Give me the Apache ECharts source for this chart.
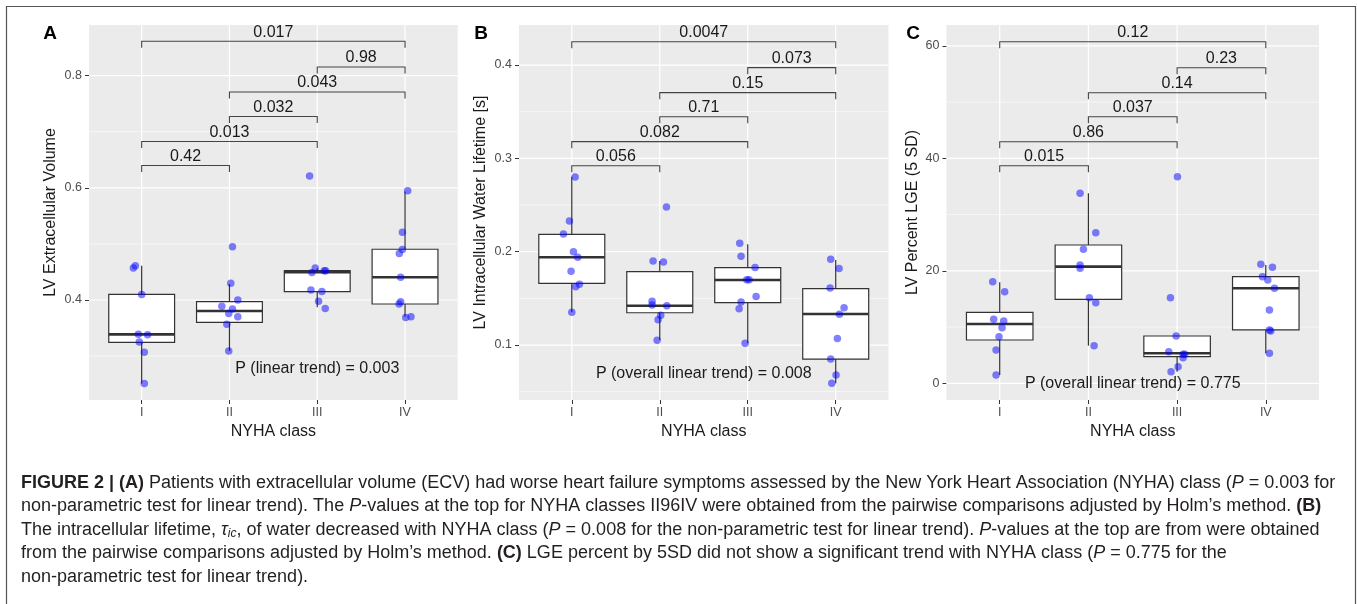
<!DOCTYPE html>
<html>
<head>
<meta charset="utf-8">
<script src="https://cdn.jsdelivr.net/npm/echarts@6/dist/echarts.min.js"></script>
<style>
  html, body { margin: 0; padding: 0; background: #fff; }
  #main { width: 1357px; height: 604px; }
</style>
</head>
<body>
<div id="main"></div>
<script>
// NYHA 分级
const CLASSES = ['I', 'II', 'III', 'IV'];
// 比较组合 (从下往上)
const PAIRS = [[0, 1], [0, 2], [1, 2], [1, 3], [2, 3], [0, 3]];

// A: LV Extracellular Volume  —— [min, Q1, median, Q3, max]
const ecvBox = [
  [0.251, 0.3245, 0.3387, 0.4102, 0.461],
  [0.309, 0.3602, 0.3804, 0.397, 0.4286],
  [0.387, 0.4148, 0.4494, 0.4523, 0.4566],
  [0.370, 0.3929, 0.4405, 0.4905, 0.5934]
];
const ecvPoints = [
  [-0.095, 0.457], [-0.072, 0.461], [0, 0.410], [-0.038, 0.339], [0.068, 0.338], [-0.027, 0.325], [0.03, 0.307], [0.03, 0.251],
  [1.034, 0.495], [1.015, 0.430], [1.095, 0.400], [0.913, 0.389], [1.034, 0.384], [0.992, 0.376], [1.095, 0.370], [0.97, 0.357], [0.992, 0.309],
  [1.913, 0.621], [1.977, 0.457], [1.939, 0.449], [2.08, 0.452], [2.095, 0.452], [1.928, 0.418], [2.053, 0.415], [2.015, 0.398], [2.091, 0.385],
  [3.03, 0.595], [2.97, 0.521], [2.97, 0.490], [2.935, 0.483], [2.95, 0.4405], [2.95, 0.397], [2.932, 0.393], [3.008, 0.369], [3.068, 0.370]
];
const ecvBracketY = [0.6398, 0.6827, 0.7273, 0.7709, 0.8155, 0.8613];
const ecvBracketP = ['0.42', '0.013', '0.032', '0.043', '0.98', '0.017'];
const ecvTicks = [0.4, 0.6, 0.8];
const ecvMinor = [0.3, 0.5, 0.7];
const ecvRange = [0.2217, 0.8904];
const ecvTrend = 'P (linear trend) = 0.003';
const ecvTrendAt = [2, 0.278];

// B: LV Intracellular Water Lifetime [s]
const tauBox = [
  [0.135, 0.1661, 0.194, 0.2186, 0.2804],
  [0.1054, 0.1346, 0.1421, 0.1786, 0.190],
  [0.1018, 0.1454, 0.1697, 0.1829, 0.208],
  [0.059, 0.085, 0.1333, 0.1604, 0.1911]
];
const tauPoints = [
  [0.038, 0.280], [-0.027, 0.233], [-0.095, 0.219], [0.019, 0.200], [0.068, 0.194], [-0.008, 0.179], [0.087, 0.165], [0.045, 0.1625], [0, 0.135],
  [1.076, 0.248], [0.924, 0.190], [1.042, 0.189], [0.913, 0.147], [0.913, 0.143], [1.08, 0.142], [1.011, 0.132], [0.981, 0.127], [0.97, 0.105],
  [1.909, 0.209], [1.924, 0.195], [2.083, 0.183], [1.989, 0.170], [2.015, 0.170], [2.095, 0.152], [1.924, 0.146], [1.902, 0.139], [1.97, 0.102],
  [2.943, 0.192], [3.038, 0.182], [2.936, 0.161], [3.095, 0.140], [3.042, 0.133], [3.019, 0.107], [2.943, 0.085], [3.004, 0.068], [2.955, 0.059]
];
const tauBracketY = [0.2921, 0.3179, 0.3446, 0.3704, 0.3972, 0.425];
const tauBracketP = ['0.056', '0.082', '0.71', '0.15', '0.073', '0.0047'];
const tauTicks = [0.1, 0.2, 0.3, 0.4];
const tauMinor = [0.05, 0.15, 0.25, 0.35];
const tauRange = [0.0411, 0.4429];
const tauTrend = 'P (overall linear trend) = 0.008';
const tauTrendAt = [1.5, 0.0697];

// C: LV Percent LGE (5 SD)
const lgeBox = [
  [1.48, 7.70, 10.54, 12.62, 17.96],
  [6.69, 14.93, 20.74, 24.59, 33.78],
  [2.06, 4.73, 5.33, 8.41, 8.41],
  [5.33, 9.48, 16.89, 18.95, 21.03]
];
const lgePoints = [
  [-0.079, 18.06], [0.056, 16.28], [-0.068, 11.38], [0.045, 11.08], [0.026, 9.89], [-0.008, 8.29], [-0.041, 5.92], [-0.041, 1.48],
  [0.906, 33.78], [1.083, 26.78], [0.944, 23.82], [0.906, 21.03], [0.906, 20.44], [1.011, 15.22], [1.083, 14.33], [1.064, 6.69],
  [2.004, 36.73], [1.925, 15.22], [1.989, 8.41], [1.906, 5.62], [2.068, 5.16], [2.086, 5.16], [2.068, 4.55], [2.011, 2.95], [1.932, 2.06],
  [2.944, 21.16], [3.075, 20.62], [2.962, 18.95], [3.023, 18.36], [3.098, 16.89], [3.041, 13.03], [3.041, 9.48], [3.056, 9.3], [3.041, 5.33]
];
const lgeBracketY = [38.68, 42.95, 47.4, 51.66, 56.1, 60.73];
const lgeBracketP = ['0.015', '0.86', '0.037', '0.14', '0.23', '0.12'];
const lgeTicks = [0, 20, 40, 60];
const lgeMinor = [10, 30, 50];
const lgeRange = [-2.97, 63.7];
const lgeTrend = 'P (overall linear trend) = 0.775';
const lgeTrendAt = [1.5, 0];

// 图注
const CAPTION = [
  '{b|FIGURE 2 | (A)} Patients with extracellular volume (ECV) had worse heart failure symptoms assessed by the New York Heart Association (NYHA) class ({i|P} = 0.003 for',
  'non-parametric test for linear trend). The {i|P}-values at the top for NYHA classes II96IV were obtained from the pairwise comparisons adjusted by Holm’s method. {b|(B)}',
  'The intracellular lifetime, {i|τ}{s|ic}, of water decreased with NYHA class ({i|P} = 0.008 for the non-parametric test for linear trend). {i|P}-values at the top are from were obtained',
  'from the pairwise comparisons adjusted by Holm’s method. {b|(C)} LGE percent by 5SD did not show a significant trend with NYHA class ({i|P} = 0.775 for the',
  'non-parametric test for linear trend).'
];

const FONT = '"Liberation Sans", Arial, Helvetica, sans-serif';
const INK = '#333333';
const BOX_HALF = 0.375;

const panels = [
  { letter: 'A', title: 'LV Extracellular Volume', box: ecvBox, points: ecvPoints, bracketY: ecvBracketY, bracketP: ecvBracketP,
    ticks: ecvTicks, minor: ecvMinor, range: ecvRange, trend: ecvTrend, trendAt: ecvTrendAt,
    grid: { left: 89, width: 368.7 }, nameGap: 30, letterAt: [50, 34] },
  { letter: 'B', title: 'LV Intracellular Water Lifetime [s]', box: tauBox, points: tauPoints, bracketY: tauBracketY, bracketP: tauBracketP,
    ticks: tauTicks, minor: tauMinor, range: tauRange, trend: tauTrend, trendAt: tauTrendAt,
    grid: { left: 519, width: 369.5 }, nameGap: 30, letterAt: [481, 34] },
  { letter: 'C', title: 'LV Percent LGE (5 SD)', box: lgeBox, points: lgePoints, bracketY: lgeBracketY, bracketP: lgeBracketP,
    ticks: lgeTicks, minor: lgeMinor, range: lgeRange, trend: lgeTrend, trendAt: lgeTrendAt,
    grid: { left: 946.5, width: 372.5 }, nameGap: 26, letterAt: [913, 34] }
];

// 背景网格线
function renderGridLine(params, api) {
  const cs = params.coordSys;
  const kind = api.value(0), v = api.value(1), major = api.value(2);
  const w = major ? 1.2 : 0.6;
  if (kind === 0) {
    const y = api.coord([0, v])[1];
    return { type: 'line', silent: true, shape: { x1: cs.x, y1: y, x2: cs.x + cs.width, y2: y }, style: { stroke: '#ffffff', lineWidth: w } };
  }
  const x = api.coord([v, 0])[0];
  return { type: 'line', silent: true, shape: { x1: x, y1: cs.y, x2: x, y2: cs.y + cs.height }, style: { stroke: '#ffffff', lineWidth: w } };
}

// 箱线图
function renderBox(params, api) {
  const x = api.value(0);
  const lo = api.coord([x - BOX_HALF, api.value(2)]);
  const hi = api.coord([x + BOX_HALF, api.value(4)]);
  const mid = api.coord([x, api.value(3)]);
  const wMin = api.coord([x, api.value(1)]);
  const wMax = api.coord([x, api.value(5)]);
  const line = { stroke: INK, lineWidth: 1.2 };
  return {
    type: 'group',
    children: [
      { type: 'line', shape: { x1: mid[0], y1: wMax[1], x2: mid[0], y2: hi[1] }, style: line },
      { type: 'line', shape: { x1: mid[0], y1: lo[1], x2: mid[0], y2: wMin[1] }, style: line },
      { type: 'rect', shape: { x: lo[0], y: hi[1], width: hi[0] - lo[0], height: lo[1] - hi[1] }, style: { fill: '#ffffff', stroke: INK, lineWidth: 1.2 } },
      { type: 'line', shape: { x1: lo[0], y1: mid[1], x2: hi[0], y2: mid[1] }, style: { stroke: INK, lineWidth: 2.6 } }
    ]
  };
}

// 显著性括号
function makeBracketRenderer(labels) {
  return function (params, api) {
    const a = api.coord([api.value(0), api.value(2)]);
    const b = api.coord([api.value(1), api.value(2)]);
    const tip = 6.5;
    return {
      type: 'group',
      children: [
        { type: 'polyline', shape: { points: [[a[0], a[1] + tip], a, b, [b[0], b[1] + tip]] }, style: { stroke: '#444', lineWidth: 1.1, fill: null } },
        { type: 'text', style: { text: labels[params.dataIndex], x: (a[0] + b[0]) / 2, y: a[1] - 9, align: 'center', verticalAlign: 'middle',
          fontSize: 16, fontFamily: FONT, fill: '#1a1a1a' } }
      ]
    };
  };
}

function makeTextRenderer(text) {
  return function (params, api) {
    const p = api.coord([api.value(0), api.value(1)]);
    return { type: 'text', style: { text: text, x: p[0], y: p[1], align: 'center', verticalAlign: 'middle', fontSize: 16, fontFamily: FONT, fill: '#1a1a1a' } };
  };
}

const grid = [], xAxis = [], yAxis = [], series = [], graphic = [];

panels.forEach(function (p, g) {
  grid.push({ left: p.grid.left, top: 25, width: p.grid.width, height: 375, show: true, backgroundColor: '#ebebeb', borderWidth: 0, containLabel: false });
  xAxis.push({
    gridIndex: g, type: 'value', min: -0.6, max: 3.6,
    name: 'NYHA class', nameLocation: 'middle', nameGap: 24,
    nameTextStyle: { fontSize: 16, color: '#1a1a1a', fontFamily: FONT },
    axisLine: { show: false, onZero: false },
    axisTick: { show: true, length: 4, lineStyle: { color: INK, width: 1 }, customValues: [0, 1, 2, 3] },
    axisLabel: { customValues: [0, 1, 2, 3], formatter: function (v) { return CLASSES[Math.round(v)]; }, color: '#4d4d4d', fontSize: 12.5, fontFamily: FONT, margin: 6 },
    splitLine: { show: false }
  });
  yAxis.push({
    gridIndex: g, type: 'value', min: p.range[0], max: p.range[1],
    name: p.title, nameLocation: 'middle', nameGap: p.nameGap,
    nameTextStyle: { fontSize: 16, color: '#1a1a1a', fontFamily: FONT },
    axisLine: { show: false, onZero: false },
    axisTick: { show: true, length: 4, lineStyle: { color: INK, width: 1 }, customValues: p.ticks },
    axisLabel: { customValues: p.ticks, color: '#4d4d4d', fontSize: 12.5, fontFamily: FONT, margin: 7 },
    splitLine: { show: false }
  });

  const lines = [];
  p.minor.forEach(function (v) { lines.push([0, v, 0]); });
  p.ticks.forEach(function (v) { lines.push([0, v, 1]); });
  CLASSES.forEach(function (c, i) { lines.push([1, i, 1]); });
  series.push({ type: 'custom', xAxisIndex: g, yAxisIndex: g, z: 1, silent: true, renderItem: renderGridLine, data: lines });

  series.push({
    type: 'custom', xAxisIndex: g, yAxisIndex: g, z: 2, renderItem: renderBox,
    data: p.box.map(function (b, i) { return [i].concat(b); })
  });

  series.push({
    type: 'scatter', xAxisIndex: g, yAxisIndex: g, z: 3, symbolSize: 7.5,
    itemStyle: { color: 'rgba(0,0,255,0.62)' }, data: p.points
  });

  series.push({
    type: 'custom', xAxisIndex: g, yAxisIndex: g, z: 3, renderItem: makeBracketRenderer(p.bracketP),
    data: PAIRS.map(function (pr, k) { return [pr[0], pr[1], p.bracketY[k]]; })
  });

  series.push({ type: 'custom', xAxisIndex: g, yAxisIndex: g, z: 3, renderItem: makeTextRenderer(p.trend), data: [p.trendAt] });

  graphic.push({ type: 'text', x: p.letterAt[0], y: p.letterAt[1],
    style: { text: p.letter, align: 'center', verticalAlign: 'middle', fontSize: 19, fontWeight: 'bold', fontFamily: FONT, fill: '#000' } });
});

// 外框
graphic.push({ type: 'rect', shape: { x: 6.5, y: 6.5, width: 1349, height: 700 }, style: { fill: null, stroke: '#555', lineWidth: 1.2 }, silent: true });

const CAP_SIZE = 18;
CAPTION.forEach(function (t, i) {
  graphic.push({
    type: 'text', x: 21, y: 483 + i * 23.4,
    style: {
      text: t, align: 'left', verticalAlign: 'middle', fontSize: CAP_SIZE, fontFamily: FONT, fill: '#231f20',
      rich: {
        b: { fontSize: CAP_SIZE, fontFamily: FONT, fontWeight: 'bold', color: '#231f20' },
        i: { fontSize: CAP_SIZE, fontFamily: FONT, fontStyle: 'italic', color: '#231f20' },
        s: { fontSize: 12, fontFamily: FONT, fontStyle: 'italic', color: '#231f20', verticalAlign: 'bottom', padding: [7, 0, 0, 0] }
      }
    }
  });
});

const chart = echarts.init(document.getElementById('main'));
chart.setOption({
  animation: false,
  grid: grid,
  xAxis: xAxis,
  yAxis: yAxis,
  series: series,
  graphic: graphic
});
</script>
</body>
</html>
